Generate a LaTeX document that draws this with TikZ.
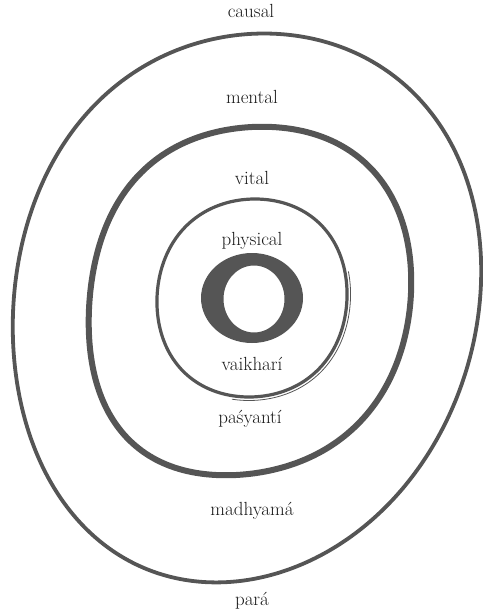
\documentclass[tikz,border=0pt]{standalone}
\usepackage{tikz}
\usetikzlibrary{positioning}
\usepackage{xcolor}
\definecolor{ink}{HTML}{555555}
\definecolor{txt}{HTML}{1A1A1A}

\begin{document}
\begin{tikzpicture}[x=1pt, y=-1pt,
    every node/.style={font=\fontsize{19}{22}\selectfont, text=txt},
    lbl/.style={anchor=base, inner sep=0pt},
    ring/.style={draw=ink, line width=#1, line join=round},
    loop/.style={smooth cycle, domain=0:357, samples=120, variable=\t}
]
    \useasboundingbox (0,0) rectangle (482,615);

    % outer ring (causal / para)
    \draw[ring=3.8pt] plot[loop] (
        {247 + 234*cos(\t)*(1+0.01*sin(2*\t)*sin(2*\t)) - 10*sin(\t) - 8*sin(\t)*sin(\t)},
        {308 + 274*sin(\t)*(1+0.01*sin(2*\t)*sin(2*\t)) - 15*cos(\t) - 10*cos(\t)*cos(\t)});

    % mental ring
    \draw[ring=6pt] plot[loop] (
        {250 + 161*cos(\t)*(1+0.035*sin(2*\t)*sin(2*\t)) - 8*sin(\t) - 6*sin(\t)*sin(\t)},
        {301 + 174*sin(\t)*(1+0.035*sin(2*\t)*sin(2*\t)) - 8*cos(\t)});

    % vital ring
    \draw[ring=3.2pt] plot[loop] (
        {252 + 95*cos(\t)*(1+0.02*sin(2*\t)*sin(2*\t)) - 3*sin(\t)},
        {298 + 99*sin(\t)*(1+0.02*sin(2*\t)*sin(2*\t))});
    \draw[draw=ink, line width=0.8pt] plot[smooth, domain=-15:100, samples=40, variable=\t] (
        {252 + 98.5*cos(\t)*(1+0.02*sin(2*\t)*sin(2*\t)) - 3*sin(\t)},
        {298 + 102.5*sin(\t)*(1+0.02*sin(2*\t)*sin(2*\t))});

    % physical core
    \fill[ink, even odd rule]
        (252,298) ellipse [x radius=51, y radius=45]
        (254,299) ellipse [x radius=30.5, y radius=33.5];

    % labels
    \node[lbl] (causal)   at (251,18)  {causal};
    \node[lbl] (mental)   at (252,103) {mental};
    \node[lbl] (vital)    at (252,184) {vital};
    \node[lbl] (physical) at (252,245) {physical};
    \node[lbl] (vaikhari) at (252,370) {vaikharí};
    \node[lbl] (pasyanti) at (250,423) {paśyantí};
    \node[lbl] (madhyama) at (252,515) {madhyamá};
    \node[lbl] (para)     at (252,605) {pará};
\end{tikzpicture}
\end{document}
